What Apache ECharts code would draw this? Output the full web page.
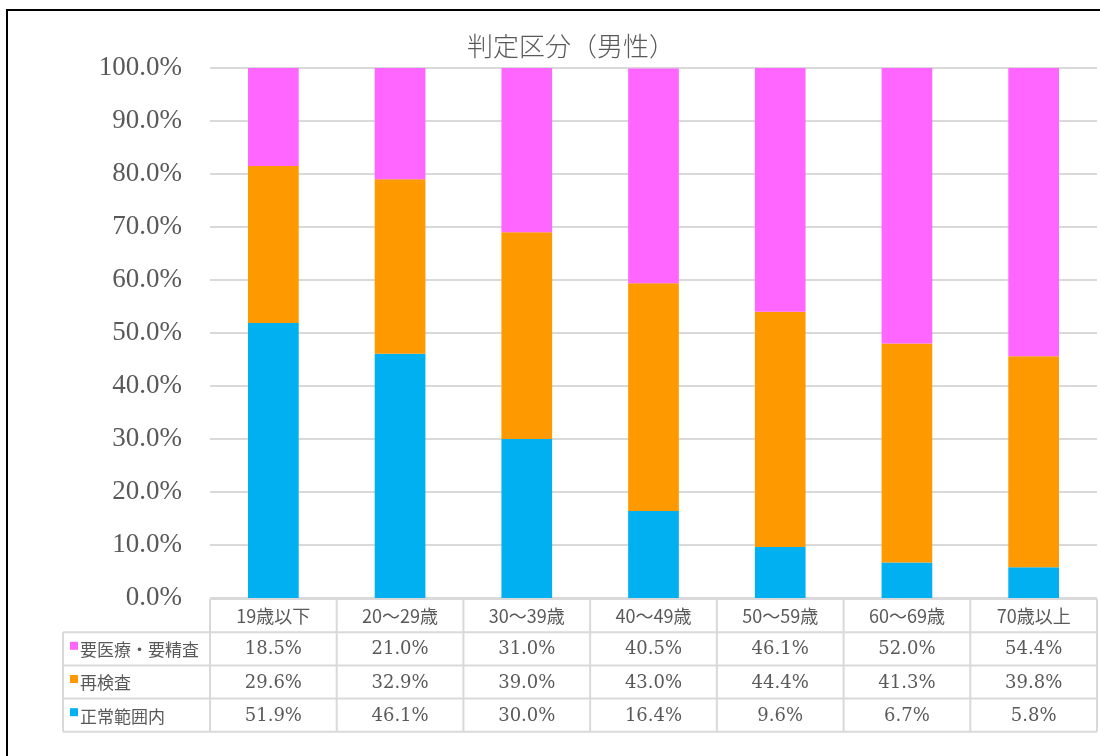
<!DOCTYPE html>
<html>
<head>
<meta charset="utf-8">
<script src="https://cdn.jsdelivr.net/npm/echarts@6/dist/echarts.min.js"></script>
<style>
html, body { margin: 0; padding: 0; background: #fff; }
#chart { width: 1100px; height: 756px; }
</style>
</head>
<body>
<div id="chart"></div>
<script>
// data
const categories = ['19歳以下', '20～29歳', '30～39歳', '40～49歳', '50～59歳', '60～69歳', '70歳以上']
const normal = [51.9, 46.1, 30.0, 16.4, 9.6, 6.7, 5.8]      // 正常範囲内
const recheck = [29.6, 32.9, 39.0, 43.0, 44.4, 41.3, 39.8]  // 再検査
const medical = [18.5, 21.0, 31.0, 40.5, 46.1, 52.0, 54.4]  // 要医療・要精査

const TEXT = '#595959'
const LINE = '#d9d9d9'
const NUM_FONT = '"DejaVu Serif", serif'
const CJK_FONT = '"Noto Sans CJK JP", sans-serif'

// stack order bottom -> top
const stackSeries = [
  { name: '正常範囲内', data: normal, color: '#00B0F0' },
  { name: '再検査', data: recheck, color: '#FF9900' },
  { name: '要医療・要精査', data: medical, color: '#FF66FF' },
]
// table rows top -> bottom
const tableRows = [stackSeries[2], stackSeries[1], stackSeries[0]]

const grid = { left: 210, right: 3, top: 68, bottom: 158 }

const chart = echarts.init(document.getElementById('chart'))
chart.setOption({
  animation: false,
  title: {
    text: '判定区分（男性）',
    left: 566,
    top: 28,
    textAlign: 'center',
    textStyle: { fontFamily: CJK_FONT, fontSize: 26, fontWeight: 300, color: TEXT },
  },
  grid,
  xAxis: {
    type: 'category',
    data: categories,
    axisLine: { show: false },
    axisTick: { show: false },
    axisLabel: { show: false },
  },
  yAxis: {
    type: 'value',
    min: 0,
    max: 100,
    interval: 10,
    axisLabel: {
      formatter: v => v.toFixed(1) + '%',
      fontFamily: '"Liberation Serif", serif',
      fontSize: 27,
      color: TEXT,
      margin: 28,
    },
    splitLine: { lineStyle: { color: LINE, width: 2 } },
  },
  series: stackSeries.map(s => ({
    name: s.name,
    type: 'bar',
    stack: 'total',
    data: s.data,
    barWidth: '40%',
    itemStyle: { color: s.color },
  })),
})

// data table under the plot, built from the same arrays
function drawTable() {
  const x0 = grid.left
  const x1 = 1100 - grid.right
  const colW = (x1 - x0) / categories.length
  const labelX = 63
  const rowTop = 599
  const rowH = 33.2
  const els = []
  const line = (ax, ay, bx, by) => els.push({
    type: 'line', silent: true,
    shape: { x1: ax, y1: ay, x2: bx, y2: by },
    style: { stroke: LINE, lineWidth: 2 },
  })
  const text = (x, y, t, font, size, align) => els.push({
    type: 'text', silent: true, x, y,
    style: { text: t, fill: TEXT, fontFamily: font, fontSize: size, align: align || 'center', verticalAlign: 'middle' },
  })

  // horizontal rules
  line(x0, rowTop, x1, rowTop)
  for (let r = 1; r <= tableRows.length + 1; r++) line(labelX, rowTop + r * rowH, x1, rowTop + r * rowH)
  // vertical rules
  const bottom = rowTop + (tableRows.length + 1) * rowH
  for (let c = 0; c <= categories.length; c++) line(x0 + c * colW, rowTop, x0 + c * colW, bottom)
  line(labelX, rowTop + rowH, labelX, bottom)

  // header
  categories.forEach((cat, i) => {
    const cx = chart.convertToPixel({ xAxisIndex: 0 }, i)
    text(cx, rowTop + rowH / 2 + 1, cat, CJK_FONT, 18)
  })
  // rows
  tableRows.forEach((s, r) => {
    const cy = rowTop + (r + 1) * rowH + rowH / 2 + 1
    els.push({
      type: 'rect', silent: true,
      shape: { x: 70, y: cy - 8, width: 8, height: 8 },
      style: { fill: s.color },
    })
    text(80, cy, s.name, CJK_FONT, 17, 'left')
    s.data.forEach((v, i) => {
      const cx = chart.convertToPixel({ xAxisIndex: 0 }, i)
      text(cx, cy, v.toFixed(1) + '%', NUM_FONT, 18)
    })
  })

  // outer chart frame (left and top edges visible)
  els.push({ type: 'line', silent: true, shape: { x1: 7, y1: 10, x2: 7, y2: 756 }, style: { stroke: '#000', lineWidth: 2 } })
  els.push({ type: 'line', silent: true, shape: { x1: 6, y1: 10, x2: 1100, y2: 10 }, style: { stroke: '#000', lineWidth: 2 } })

  chart.setOption({ graphic: { elements: els } })
}
drawTable()
</script>
</body>
</html>
